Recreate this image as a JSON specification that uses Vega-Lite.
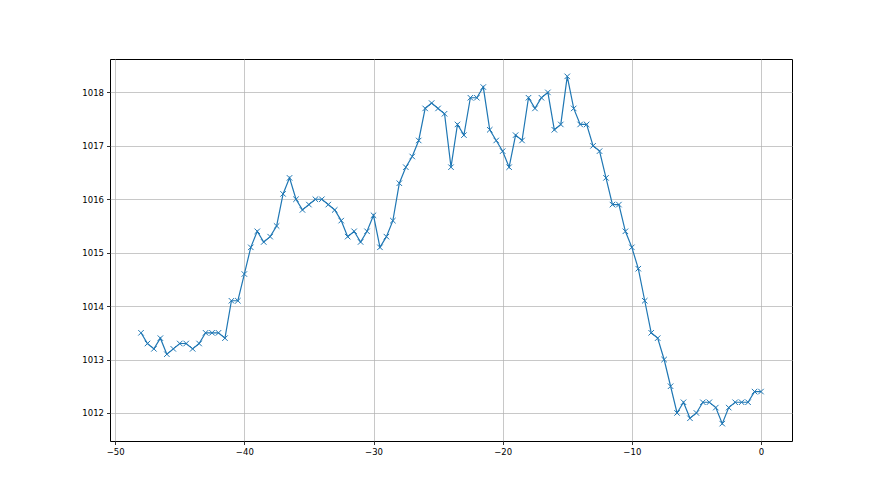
{
  "$schema": "https://vega.github.io/schema/vega-lite/v6.json",
  "width": 682,
  "height": 382,
  "autosize": {"type": "none"},
  "padding": {"left": 110, "top": 59, "right": 88, "bottom": 54},
  "background": "white",
  "config": {
    "view": {"stroke": "black", "strokeWidth": 1},
    "axis": {
      "grid": true,
      "gridColor": "#b0b0b0",
      "gridWidth": 0.7,
      "domain": false,
      "tickColor": "black",
      "tickSize": 3.5,
      "tickWidth": 0.8,
      "labelFont": "DejaVu Sans",
      "labelFontSize": 8.5,
      "labelColor": "black",
      "labelPadding": 3,
      "title": null
    }
  },
  "data": {
    "values": [
      {"x": -48, "y": 1013.5}, {"x": -47.5, "y": 1013.3}, {"x": -47, "y": 1013.2}, {"x": -46.5, "y": 1013.4},
      {"x": -46, "y": 1013.1}, {"x": -45.5, "y": 1013.2}, {"x": -45, "y": 1013.3}, {"x": -44.5, "y": 1013.3},
      {"x": -44, "y": 1013.2}, {"x": -43.5, "y": 1013.3}, {"x": -43, "y": 1013.5}, {"x": -42.5, "y": 1013.5},
      {"x": -42, "y": 1013.5}, {"x": -41.5, "y": 1013.4}, {"x": -41, "y": 1014.1}, {"x": -40.5, "y": 1014.1},
      {"x": -40, "y": 1014.6}, {"x": -39.5, "y": 1015.1}, {"x": -39, "y": 1015.4}, {"x": -38.5, "y": 1015.2},
      {"x": -38, "y": 1015.3}, {"x": -37.5, "y": 1015.5}, {"x": -37, "y": 1016.1}, {"x": -36.5, "y": 1016.4},
      {"x": -36, "y": 1016.0}, {"x": -35.5, "y": 1015.8}, {"x": -35, "y": 1015.9}, {"x": -34.5, "y": 1016.0},
      {"x": -34, "y": 1016.0}, {"x": -33.5, "y": 1015.9}, {"x": -33, "y": 1015.8}, {"x": -32.5, "y": 1015.6},
      {"x": -32, "y": 1015.3}, {"x": -31.5, "y": 1015.4}, {"x": -31, "y": 1015.2}, {"x": -30.5, "y": 1015.4},
      {"x": -30, "y": 1015.7}, {"x": -29.5, "y": 1015.1}, {"x": -29, "y": 1015.3}, {"x": -28.5, "y": 1015.6},
      {"x": -28, "y": 1016.3}, {"x": -27.5, "y": 1016.6}, {"x": -27, "y": 1016.8}, {"x": -26.5, "y": 1017.1},
      {"x": -26, "y": 1017.7}, {"x": -25.5, "y": 1017.8}, {"x": -25, "y": 1017.7}, {"x": -24.5, "y": 1017.6},
      {"x": -24, "y": 1016.6}, {"x": -23.5, "y": 1017.4}, {"x": -23, "y": 1017.2}, {"x": -22.5, "y": 1017.9},
      {"x": -22, "y": 1017.9}, {"x": -21.5, "y": 1018.1}, {"x": -21, "y": 1017.3}, {"x": -20.5, "y": 1017.1},
      {"x": -20, "y": 1016.9}, {"x": -19.5, "y": 1016.6}, {"x": -19, "y": 1017.2}, {"x": -18.5, "y": 1017.1},
      {"x": -18, "y": 1017.9}, {"x": -17.5, "y": 1017.7}, {"x": -17, "y": 1017.9}, {"x": -16.5, "y": 1018.0},
      {"x": -16, "y": 1017.3}, {"x": -15.5, "y": 1017.4}, {"x": -15, "y": 1018.3}, {"x": -14.5, "y": 1017.7},
      {"x": -14, "y": 1017.4}, {"x": -13.5, "y": 1017.4}, {"x": -13, "y": 1017.0}, {"x": -12.5, "y": 1016.9},
      {"x": -12, "y": 1016.4}, {"x": -11.5, "y": 1015.9}, {"x": -11, "y": 1015.9}, {"x": -10.5, "y": 1015.4},
      {"x": -10, "y": 1015.1}, {"x": -9.5, "y": 1014.7}, {"x": -9, "y": 1014.1}, {"x": -8.5, "y": 1013.5},
      {"x": -8, "y": 1013.4}, {"x": -7.5, "y": 1013.0}, {"x": -7, "y": 1012.5}, {"x": -6.5, "y": 1012.0},
      {"x": -6, "y": 1012.2}, {"x": -5.5, "y": 1011.9}, {"x": -5, "y": 1012.0}, {"x": -4.5, "y": 1012.2},
      {"x": -4, "y": 1012.2}, {"x": -3.5, "y": 1012.1}, {"x": -3, "y": 1011.8}, {"x": -2.5, "y": 1012.1},
      {"x": -2, "y": 1012.2}, {"x": -1.5, "y": 1012.2}, {"x": -1, "y": 1012.2}, {"x": -0.5, "y": 1012.4},
      {"x": 0, "y": 1012.4}
    ]
  },
  "encoding": {
    "x": {
      "field": "x",
      "type": "quantitative",
      "scale": {"domain": [-50.4, 2.4], "nice": false, "zero": false},
      "axis": {"values": [-50, -40, -30, -20, -10, 0], "labelExpr": "replace(datum.label, '-', '\u2212')"}
    },
    "y": {
      "field": "y",
      "type": "quantitative",
      "scale": {"domain": [1011.475, 1018.625], "nice": false, "zero": false},
      "axis": {"values": [1012, 1013, 1014, 1015, 1016, 1017, 1018], "format": "d"}
    }
  },
  "layer": [
    {"mark": {"type": "line", "color": "#1f77b4", "strokeWidth": 1.2}},
    {"mark": {"type": "point", "shape": "M-1,-1L1,1M-1,1L1,-1", "filled": false, "color": "#1f77b4", "strokeWidth": 1, "size": 30, "opacity": 1}}
  ]
}
